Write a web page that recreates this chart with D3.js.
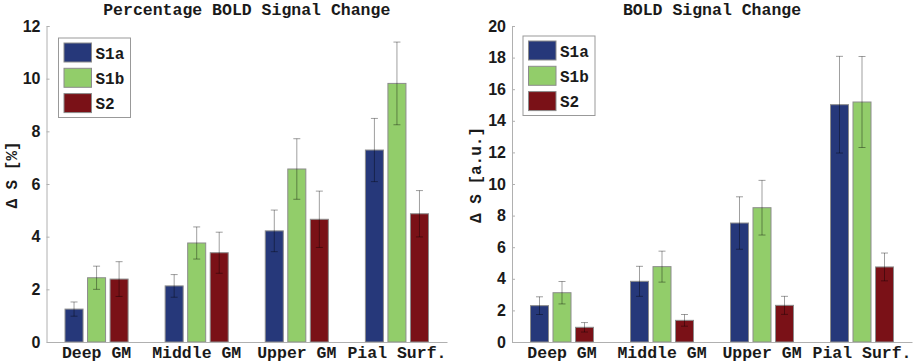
<!DOCTYPE html>
<html>
<head>
<meta charset="utf-8">
<script src="https://cdn.jsdelivr.net/npm/d3@7"></script>
<style>
  body { margin: 0; background: #fff; }
  svg { display: block; }
  text { font-family: "Liberation Mono", "Courier New", monospace; font-weight: bold; fill: #1a1a1a; }
</style>
</head>
<body>
<svg id="chart" width="921" height="364"></svg>
<script>
const categories = ["Deep GM", "Middle GM", "Upper GM", "Pial Surf."];
const seriesNames = ["S1a", "S1b", "S2"];
const seriesColors = ["#26387a", "#92cd6a", "#7a1117"];

// Left panel: Percentage BOLD Signal Change
const pctS1a = [1.25, 2.13, 4.22, 7.29];
const pctS1b = [2.44, 3.76, 6.57, 9.82];
const pctS2  = [2.39, 3.39, 4.66, 4.87];
const pctErrS1a = [0.27, 0.43, 0.79, 1.20];
const pctErrS1b = [0.44, 0.61, 1.15, 1.57];
const pctErrS2  = [0.66, 0.78, 1.07, 0.88];
const pctTicks = [0, 2, 4, 6, 8, 10, 12];

// Right panel: BOLD Signal Change
const absS1a = [2.30, 3.84, 7.53, 15.02];
const absS1b = [3.12, 4.77, 8.50, 15.19];
const absS2  = [0.93, 1.37, 2.32, 4.75];
const absErrS1a = [0.56, 0.95, 1.66, 3.06];
const absErrS1b = [0.71, 0.98, 1.73, 2.88];
const absErrS2  = [0.30, 0.37, 0.57, 0.88];
const absTicks = [0, 2, 4, 6, 8, 10, 12, 14, 16, 18, 20];

const svg = d3.select("#chart");

function panel(cfg) {
  const g = svg.append("g");
  const x = d3.scaleBand().domain(categories).range([cfg.x0, cfg.x1]).paddingInner(0).paddingOuter(0);
  const xs = d3.scaleBand().domain(seriesNames).range([0, x.bandwidth()]).paddingInner(0.2).paddingOuter(0.822);
  const y = d3.scaleLinear().domain([0, cfg.max]).range([cfg.y0, cfg.y1]);

  const rows = [];
  categories.forEach((c, i) => {
    seriesNames.forEach((s, j) => {
      rows.push({ cat: c, ser: s, color: seriesColors[j], v: cfg.values[j][i], e: cfg.errs[j][i] });
    });
  });

  g.selectAll("rect.bar").data(rows).join("rect")
    .attr("class", "bar")
    .attr("x", d => x(d.cat) + xs(d.ser))
    .attr("width", xs.bandwidth())
    .attr("y", d => y(d.v))
    .attr("height", d => y(0) - y(d.v))
    .attr("fill", d => d.color)
    .attr("stroke", "#8c8c8c")
    .attr("stroke-width", 1);

  const eb = g.selectAll("g.err").data(rows).join("g").attr("class", "err")
    .attr("stroke", "rgba(0,0,0,0.38)").attr("stroke-width", 1);
  eb.append("line")
    .attr("x1", d => x(d.cat) + xs(d.ser) + xs.bandwidth() / 2)
    .attr("x2", d => x(d.cat) + xs(d.ser) + xs.bandwidth() / 2)
    .attr("y1", d => y(d.v - d.e)).attr("y2", d => y(d.v + d.e));
  [1, -1].forEach(sg => {
    eb.append("line")
      .attr("x1", d => x(d.cat) + xs(d.ser) + xs.bandwidth() / 2 - 3.5)
      .attr("x2", d => x(d.cat) + xs(d.ser) + xs.bandwidth() / 2 + 3.5)
      .attr("y1", d => y(d.v + sg * d.e)).attr("y2", d => y(d.v + sg * d.e));
  });

  const ya = g.append("g").attr("transform", `translate(${cfg.x0},0)`)
    .call(d3.axisLeft(y).tickValues(cfg.ticks).tickSize(-3).tickPadding(6).tickFormat(d3.format("d")));
  ya.select(".domain").attr("stroke", "#b0b0b0");
  ya.selectAll(".tick line").attr("stroke", "#b0b0b0");
  ya.selectAll(".tick text").style("font-size", "16px").style("font-family", "'Liberation Sans', Arial, sans-serif").style("font-weight", "bold");

  const xa = g.append("g").attr("transform", `translate(0,${cfg.y0})`)
    .call(d3.axisBottom(x).tickSize(0).tickPadding(0));
  xa.select(".domain").attr("stroke", "#b0b0b0");
  xa.selectAll(".tick text").style("font-size", "16.5px").attr("y", 16).attr("dy", "0");

  g.append("text")
    .attr("x", (cfg.x0 + cfg.x1) / 2).attr("y", 15)
    .attr("text-anchor", "middle").style("font-size", "16.5px")
    .text(cfg.title);

  g.append("text")
    .attr("transform", `translate(${cfg.labelX},175) rotate(-90)`)
    .attr("text-anchor", "middle").attr("dy", "0.35em").style("font-size", "16px")
    .text(cfg.ylabel);

  const lg = g.append("g").attr("transform", `translate(${cfg.legX},${cfg.legY})`);
  lg.append("rect").attr("x", 0).attr("y", 0).attr("width", 72).attr("height", 79.5)
    .attr("fill", "#fff").attr("stroke", "#999").attr("stroke-width", 1);
  seriesNames.forEach((s, j) => {
    lg.append("rect").attr("x", 5.5).attr("y", 5 + j * 25.3).attr("width", 27.5).attr("height", 19)
      .attr("fill", seriesColors[j]).attr("stroke", "#8c8c8c");
    lg.append("text").attr("x", 37).attr("y", 5 + j * 25.3 + 15.5)
      .style("font-size", "16px").text(s);
  });
}

panel({
  x0: 46.5, x1: 447, y0: 342, y1: 26, max: 12, ticks: pctTicks,
  values: [pctS1a, pctS1b, pctS2], errs: [pctErrS1a, pctErrS1b, pctErrS2],
  title: "Percentage BOLD Signal Change", ylabel: "Δ S [%]", labelX: 11,
  legX: 58.5, legY: 38
});
panel({
  x0: 512, x1: 912, y0: 342, y1: 26, max: 20, ticks: absTicks,
  values: [absS1a, absS1b, absS2], errs: [absErrS1a, absErrS1b, absErrS2],
  title: "BOLD Signal Change", ylabel: "Δ S [a.u.]", labelX: 475,
  legX: 523, legY: 36
});
</script>
</body>
</html>
